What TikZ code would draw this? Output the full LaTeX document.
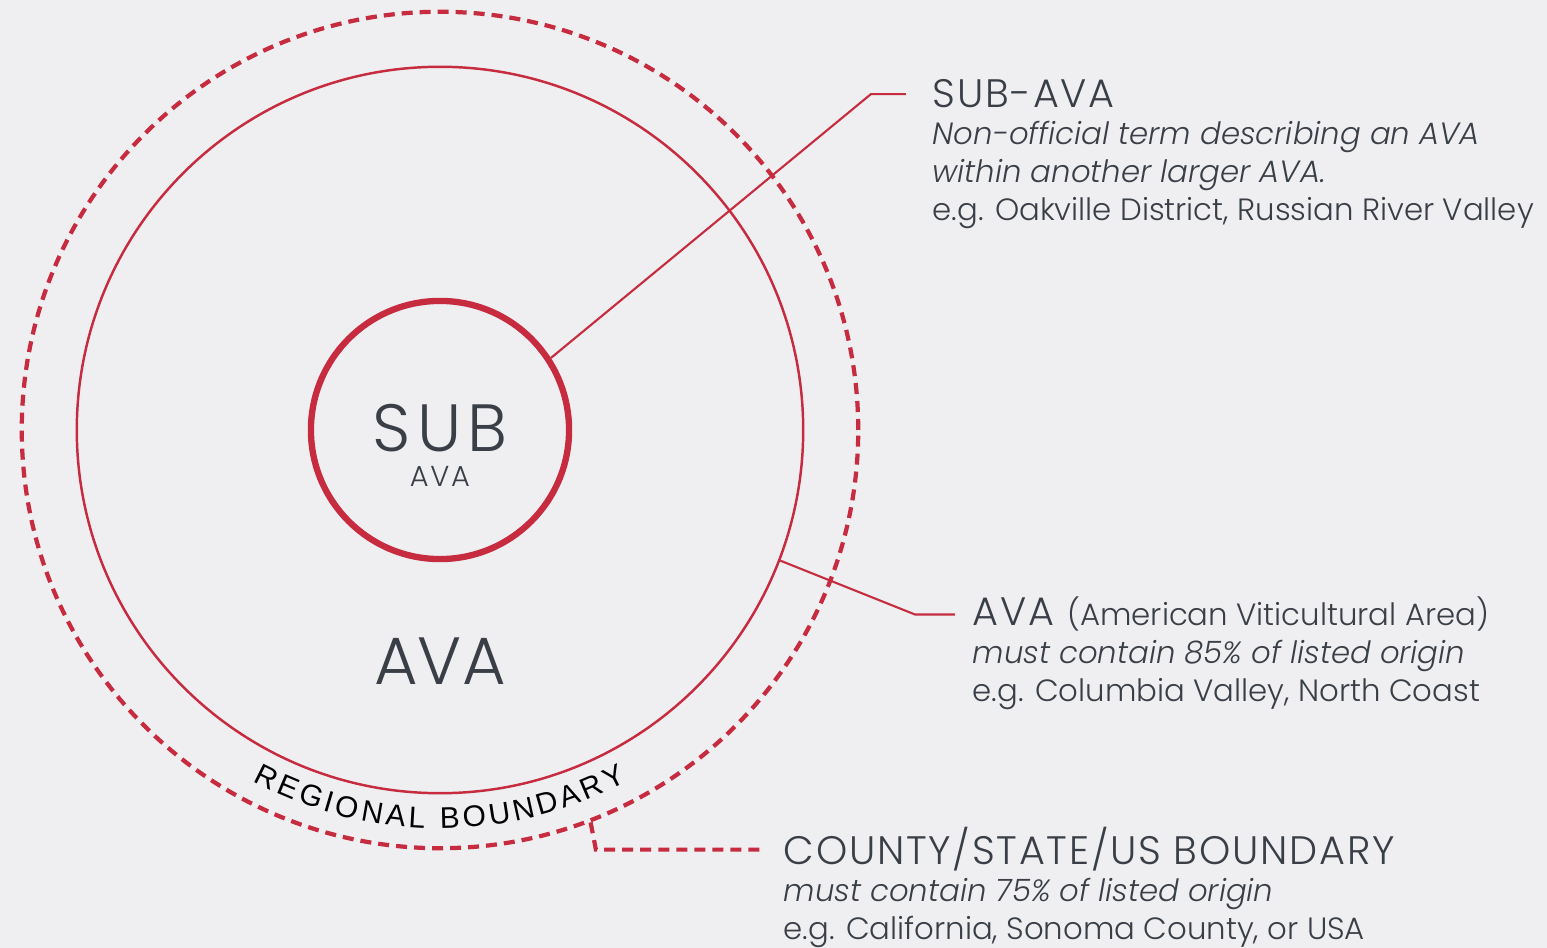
\documentclass[tikz,border=0pt]{standalone}
\usepackage{fontspec}
\setmainfont{Poppins}[UprightFont=* Light,ItalicFont=* Light Italic]
\newfontfamily\regionfont{Liberation Sans}
\usetikzlibrary{positioning,decorations.text}
\definecolor{avared}{HTML}{C62B3F}
\definecolor{avatext}{HTML}{3A3F47}
\definecolor{avabg}{HTML}{EFEFF1}

\begin{document}
\begin{tikzpicture}[x=0.01cm,y=0.01cm,
  ring/.style={circle,draw=avared,inner sep=0pt},
  leader/.style={draw=avared,line width=0.6pt},
  heading/.style={inner sep=0pt,text=avatext,font=\fontsize{11.3}{12}\selectfont\addfontfeatures{LetterSpace=4.5}},
  body/.style={inner sep=0pt,text=avatext,align=left,font=\fontsize{8.75}{10.67}\selectfont}]

   \fill[avabg] (0,0) rectangle (1547,948);
   \useasboundingbox (0,0) rectangle (1547,948);
   \coordinate (c) at (440,518);

   % the three boundaries
   \node[ring,minimum size=8.36cm,line width=1.2pt,dash pattern=on 0.11cm off 0.07cm] (region) at (c) {};
   \node[ring,minimum size=7.26cm,line width=0.7pt] (ava) at (c) {};
   \node[ring,minimum size=2.58cm,line width=1.8pt] (sub) at (c) {};

   \node[text=avatext,inner sep=0pt,font=\fontsize{19}{20}\selectfont\addfontfeatures{LetterSpace=10}] (sublabel) at (440,520) {SUB};
   \node[text=avatext,inner sep=0pt,font=\fontsize{8.2}{9}\selectfont\addfontfeatures{LetterSpace=6}] (subsmall) at (440,472) {AVA};
   \node[text=avatext,inner sep=0pt,font=\fontsize{19}{20}\selectfont] (avalabel) at (440,287) {AVA};

   \path[decorate,decoration={text along path,text align=fit to path,
      text={|\regionfont\fontsize{8.5}{9}\selectfont|REGIONAL BOUNDARY}}]
      (c) ++(242:3.98cm) arc[start angle=242,end angle=298,radius=3.98cm];

   % legend texts
   \node[heading,anchor=base west] (subhead) at (932,840) {SUB-AVA};
   \node[body,anchor=north west] (subtext) at (932,827) {\itshape Non-official term describing an AVA\\
      \itshape within another larger AVA.\\ e.g. Oakville District, Russian River Valley};

   \node[heading,anchor=base west] (avahead) at (972,322) {AVA\hspace{0.13cm}{\fontsize{8.75}{10.67}\selectfont\addfontfeatures{LetterSpace=0}(American Viticultural Area)}};
   \node[body,anchor=north west] (avatext) at (972,308) {\itshape must contain 85\% of listed origin\\
      e.g. Columbia Valley, North Coast};

   \node[heading,anchor=base west] (cohead) at (783,83) {COUNTY/STATE/US BOUNDARY};
   \node[body,anchor=north west] (cotext) at (783,70) {\itshape must contain 75\% of listed origin\\
      e.g. California, Sonoma County, or USA};

   % leaders
   \draw[leader] (sub.33) -- ([xshift=-0.61cm]subhead.west) -- ([xshift=-0.26cm]subhead.west);
   \draw[leader] (ava.-21) -- ([xshift=-0.57cm]avahead.west) -- ([xshift=-0.17cm]avahead.west);
   \draw[leader,line width=1.2pt,dash pattern=on 0.11cm off 0.07cm] (region.-69) -- ([xshift=-1.87cm]cohead.west) -- ([xshift=-0.18cm]cohead.west);
\end{tikzpicture}
\end{document}
